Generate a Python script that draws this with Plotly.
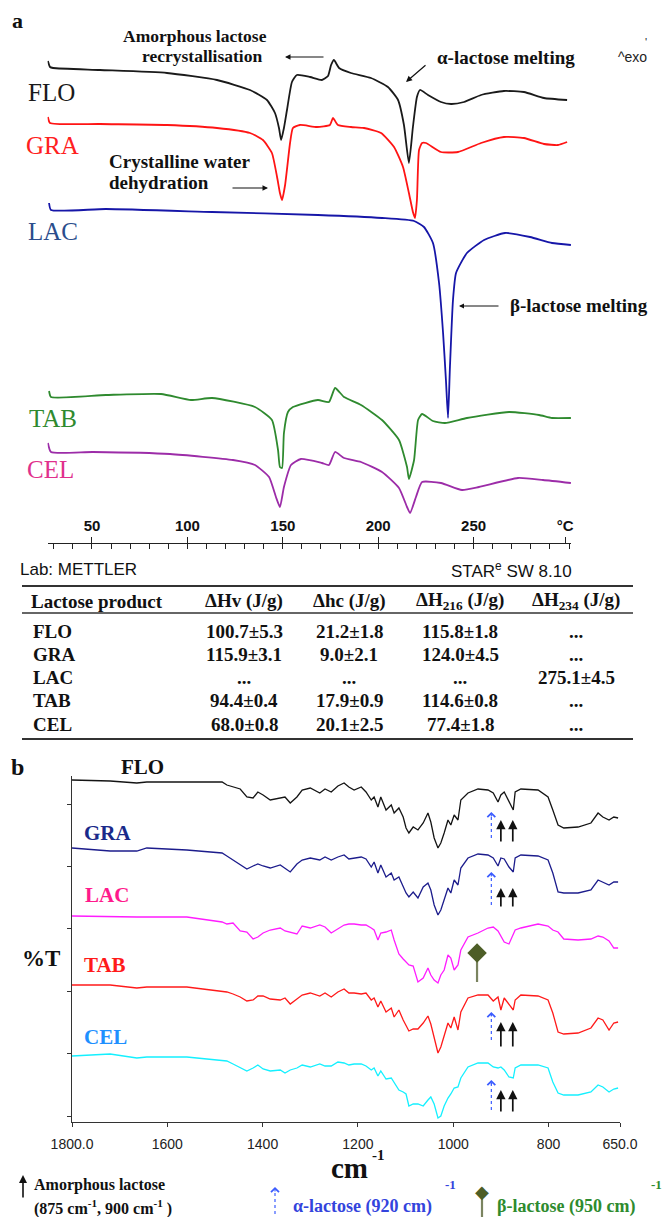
import plotly.graph_objects as go

W, H = 662, 1217
SERIF = "Liberation Serif"
SANS = "Liberation Sans"

# ======================= DATA =======================
# ---- Panel a: DSC thermograms (temperature °C, heat flow a.u., exo up) ----
DSC_SAMPLES = ["FLO", "GRA", "LAC", "TAB", "CEL"]

FLO_T = [26.9, 28.0, 29.6, 54.2, 89.3, 115.5, 132.8, 141.7, 145.9, 148.0, 149.1, 150.6, 152.2, 154.8, 157.4,
         164.3, 170.5, 173.7, 175.3, 176.8, 179.5, 185.7, 196.2, 205.1, 210.4, 213.5, 216.1, 218.2, 220.3, 221.9,
         226.1, 232.9, 238.2, 245.0, 253.9, 265.9, 276.4, 286.9, 299.0]
FLO_HF = [6, 0, -1, -3, -6, -13, -23, -33, -46, -61, -73, -61, -43, -15, -8,
          -10, -13, -9, 2, 7, -1, -6, -11, -20, -33, -58, -96, -60, -30, -23,
          -28, -35, -37, -35, -28, -24, -25, -31, -33]

GRA_T = [26.9, 28.0, 54.2, 89.3, 115.5, 132.8, 139.6, 144.3, 147.0, 148.5, 149.6, 151.2, 153.8, 155.3, 159.0,
         167.9, 174.7, 176.3, 178.9, 185.7, 192.6, 201.5, 208.3, 213.0, 216.1, 218.2, 219.3, 220.3, 221.4, 223.0,
         225.0, 232.9, 241.8, 253.9, 265.9, 276.4, 286.9, 294.2, 299.0]
GRA_HF = [6, 0, -1, -2, -5, -10, -17, -30, -54, -70, -77, -62, -20, -5, -2,
          -4, -2, 5, -2, -4, -5, -10, -24, -44, -70, -89, -95, -77, -27, -20,
          -20, -29, -29, -20, -14, -15, -21, -22, -19]

LAC_T = [27.5, 28.5, 57.3, 112.9, 168.4, 202.0, 218.8, 224.0, 228.7, 231.9, 234.0, 235.5, 236.6, 237.6, 239.2,
         240.8, 246.5, 255.5, 266.5, 279.6, 291.1, 301.0]
LAC_HF = [6, -1, 0, -3, -6, -9, -12, -18, -34, -74, -124, -171, -209, -158, -91,
          -64, -44, -31, -24, -28, -34, -36]

TAB_T = [27.5, 28.5, 57.3, 86.2, 101.9, 112.9, 135.4, 144.3, 147.5, 148.5, 149.6, 150.6, 152.7, 155.3, 168.4,
         174.2, 177.4, 182.1, 191.0, 202.0, 210.9, 215.1, 216.1, 218.8, 220.9, 223.0, 228.7, 235.0, 246.5, 268.6,
         284.3, 291.1, 301.0]
TAB_HF = [5, -1, 1, 2, -4, -2, -11, -24, -54, -71, -72, -37, -16, -11, -4,
          -6, 8, -1, -9, -24, -44, -71, -83, -64, -24, -18, -25, -27, -22, -16,
          -19, -22, -22]

CEL_T = [26.9, 28.5, 50.5, 90.9, 123.9, 135.4, 142.8, 146.4, 148.5, 150.6, 154.3, 159.5, 170.5, 174.2, 177.4,
         182.1, 191.0, 202.0, 210.9, 215.1, 216.7, 219.8, 223.0, 232.9, 243.9, 252.8, 273.3, 286.4, 301.0]
CEL_HF = [9, 0, 0, -2, -8, -13, -25, -45, -55, -35, -13, -7, -11, -13, 0,
          -6, -10, -20, -36, -55, -61, -45, -30, -31, -38, -35, -26, -28, -31]

DSC_T = {"FLO": FLO_T, "GRA": GRA_T, "LAC": LAC_T, "TAB": TAB_T, "CEL": CEL_T}
DSC_HF = {"FLO": FLO_HF, "GRA": GRA_HF, "LAC": LAC_HF, "TAB": TAB_HF, "CEL": CEL_HF}

DSC_TICKS = [50, 100, 150, 200, 250, 298]
DSC_TICKTEXT = ["50", "100", "150", "200", "250", "°C"]

# ---- Table ----
TABLE_HEADER = ["Lactose product", "ΔHv (J/g)", "Δhc (J/g)", "ΔH<sub>216</sub> (J/g)", "ΔH<sub>234</sub> (J/g)"]
TABLE_PRODUCTS = ["FLO", "GRA", "LAC", "TAB", "CEL"]
DHV = ["100.7±5.3", "115.9±3.1", "...", "94.4±0.4", "68.0±0.8"]
DHC = ["21.2±1.8", "9.0±2.1", "...", "17.9±0.9", "20.1±2.5"]
DH216 = ["115.8±1.8", "124.0±4.5", "...", "114.6±0.8", "77.4±1.8"]
DH234 = ["...", "...", "275.1±4.5", "...", "..."]

# ---- Panel b: FTIR spectra (wavenumber cm-1, transmittance a.u.) ----
FTIR_SAMPLES = ["FLO", "GRA", "LAC", "TAB", "CEL"]
WN = [1800, 1720, 1664, 1643, 1559, 1485, 1475, 1462, 1447, 1433, 1420, 1410, 1399, 1384, 1363,
      1353, 1342, 1328, 1317, 1300, 1280, 1269, 1256, 1242, 1229, 1219, 1208, 1193, 1183, 1172,
      1166, 1158, 1152, 1141, 1130, 1124, 1114, 1105, 1099, 1093, 1084, 1074, 1063, 1053, 1047,
      1040, 1032, 1026, 1019, 1011, 1005, 998, 990, 984, 969, 948, 927, 916, 906, 900,
      893, 883, 874, 870, 858, 822, 801, 791, 780, 768, 738, 711, 696, 686, 673,
      663, 654]
FTIR_FLO = [0, -1, -3, -2, -2, -2, -5, -7, -9, -17, -18, -12, -15, -20, -18,
            -17, -23, -17, -10, -8, -13, -9, -12, -6, -3, -7, -10, -7, -12, -20,
            -17, -27, -17, -30, -25, -33, -28, -37, -48, -53, -47, -50, -43, -33, -42,
            -58, -68, -63, -53, -40, -45, -35, -40, -20, -13, -9, -10, -13, -22, -15,
            -12, -22, -30, -12, -9, -10, -17, -30, -45, -48, -47, -43, -33, -37, -40,
            -37, -38]
FTIR_GRA = [0, -3, -3, 0, -2, -5, -8, -12, -17, -21, -18, -16, -18, -20, -17,
            -20, -24, -16, -12, -10, -12, -9, -12, -9, -7, -11, -10, -9, -11, -19,
            -14, -25, -17, -29, -25, -32, -29, -38, -45, -49, -44, -50, -39, -35, -42,
            -57, -67, -62, -52, -40, -45, -32, -37, -20, -10, -6, -7, -10, -18, -10,
            -11, -19, -24, -10, -7, -8, -12, -25, -44, -45, -45, -42, -32, -34, -37,
            -34, -34]
FTIR_LAC = [0, -1, -1, -1, -1, -6, -8, -7, -15, -16, -23, -21, -17, -14, -12,
            -15, -16, -18, -10, -12, -9, -11, -17, -13, -9, -8, -8, -9, -9, -12,
            -14, -24, -17, -16, -14, -24, -38, -43, -46, -49, -50, -66, -62, -52, -59,
            -64, -67, -59, -54, -39, -42, -54, -49, -34, -21, -17, -12, -11, -15, -20,
            -26, -28, -17, -14, -12, -8, -10, -14, -16, -23, -24, -23, -20, -21, -25,
            -32, -32]
FTIR_TAB = [0, 0, -3, -2, -2, -6, -7, -9, -12, -16, -15, -11, -11, -14, -15,
            -13, -19, -14, -10, -8, -11, -8, -12, -7, -4, -8, -8, -9, -8, -15,
            -13, -22, -16, -27, -23, -32, -25, -35, -41, -46, -44, -44, -38, -31, -39,
            -53, -68, -62, -50, -38, -43, -32, -45, -27, -13, -10, -10, -16, -12, -25,
            -13, -19, -25, -15, -10, -11, -15, -28, -47, -49, -48, -43, -33, -35, -45,
            -38, -37]
FTIR_CEL = [0, 2, -2, -1, -1, -4, -5, -8, -12, -15, -12, -9, -13, -15, -14,
            -17, -14, -12, -9, -11, -8, -10, -10, -6, -7, -9, -8, -8, -10, -14,
            -12, -20, -15, -23, -22, -27, -34, -36, -38, -50, -48, -48, -50, -44, -41,
            -48, -62, -60, -50, -42, -38, -32, -31, -22, -11, -7, -7, -11, -12, -11,
            -14, -21, -22, -12, -9, -9, -12, -26, -37, -39, -39, -36, -29, -31, -36,
            -33, -32]
FTIR = {"FLO": FTIR_FLO, "GRA": FTIR_GRA, "LAC": FTIR_LAC, "TAB": FTIR_TAB, "CEL": FTIR_CEL}

FTIR_TICKS = [1800, 1600, 1400, 1200, 1000, 800, 650]
FTIR_TICKTEXT = ["1800.0", "1600", "1400", "1200", "1000", "800", "650.0"]

AMORPHOUS_BANDS = [900, 875]     # cm-1
ALPHA_BAND = 920                 # cm-1
BETA_BAND = 950                  # cm-1
AMORPHOUS_SAMPLES = ["FLO", "GRA", "TAB", "CEL"]
BETA_SAMPLES = ["LAC"]

# ======================= STYLE / LAYOUT =======================
DSC_STYLE = {
    "FLO": dict(offset=453, color="#1a1a1a", lcolor="#1a1a1a", lxy=(51, 92)),
    "GRA": dict(offset=397, color="#ff1414", lcolor="#ff2020", lxy=(52, 145)),
    "LAC": dict(offset=311, color="#1616a8", lcolor="#2b4d8c", lxy=(53, 232)),
    "TAB": dict(offset=124, color="#2f8a2f", lcolor="#2f8a2f", lxy=(53, 418)),
    "CEL": dict(offset=68, color="#9c2ca8", lcolor="#e0308c", lxy=(50, 470)),
}
FTIR_STYLE = {
    "FLO": dict(offset=342, color="#141414", lcolor="#111111", lxy=(142, 767)),
    "GRA": dict(offset=274, color="#1c1c8c", lcolor="#1a2a8a", lxy=(108, 833)),
    "LAC": dict(offset=206, color="#ff1cff", lcolor="#ff1a8c", lxy=(107, 895)),
    "TAB": dict(offset=137, color="#ff1a1a", lcolor="#ff1a1a", lxy=(105, 965)),
    "CEL": dict(offset=66, color="#14f0ff", lcolor="#1e90ff", lxy=(105, 1037)),
}
# arrow (tail, head) heights in FTIR axis units
ALPHA_ARROW_Y = {"FLO": (284, 310), "GRA": (217, 250), "TAB": (82, 110), "CEL": (12, 42)}
AMORPH_ARROW_Y = {"FLO": (279, 302), "GRA": (214, 234), "TAB": (74, 100), "CEL": (9, 32)}
BETA_MARK_Y = {"LAC": (140, 169)}


def X(px):
    return px / W


def Y(py):
    return 1 - py / H


fig = go.Figure()

# ---- DSC curves ----
for s in DSC_SAMPLES:
    st = DSC_STYLE[s]
    fig.add_trace(go.Scatter(
        x=DSC_T[s], y=[st["offset"] + v for v in DSC_HF[s]], xaxis="x", yaxis="y",
        mode="lines", line=dict(color=st["color"], width=1.8, shape="spline", smoothing=0.5),
        hoverinfo="skip"))

# ---- FTIR spectra ----
for s in FTIR_SAMPLES:
    st = FTIR_STYLE[s]
    fig.add_trace(go.Scatter(
        x=WN, y=[st["offset"] + v for v in FTIR[s]], xaxis="x2", yaxis="y2",
        mode="lines", line=dict(color=st["color"], width=1.3), hoverinfo="skip"))

annotations = []
shapes = []


def text(t, x, y, size, color="#111", bold=False, family=SERIF, xanchor="center", yanchor="middle"):
    annotations.append(dict(
        text=("<b>%s</b>" % t) if bold else t, x=X(x), y=Y(y), xref="paper", yref="paper",
        showarrow=False, xanchor=xanchor, yanchor=yanchor, borderpad=0,
        font=dict(family=family, size=size, color=color)))


def arrow(hx, hy, tx, ty, color="#111", head=2, size=1.0, width=1.2):
    annotations.append(dict(
        text="", x=X(hx), y=Y(hy), xref="paper", yref="paper", axref="pixel", ayref="pixel",
        ax=tx - hx, ay=ty - hy, showarrow=True, arrowhead=head, arrowsize=size,
        arrowwidth=width, arrowcolor=color))


# ---- Panel a text ----
text("a", 17, 21, 22, bold=True)
for s in DSC_SAMPLES:
    st = DSC_STYLE[s]
    text(s, st["lxy"][0], st["lxy"][1], 25, color=st["lcolor"])

text("Amorphous lactose", 195, 36, 17.5, bold=True)
text("recrystallisation", 202, 56, 17.5, bold=True)
arrow(285, 57, 325, 57, width=1.1)
text("α-lactose melting", 506, 58, 19, bold=True)
arrow(406, 82, 427, 64, width=1.2)
text("^exo", 632, 57, 14, family=SANS, color="#222")
text("'", 646, 42, 11, family=SANS, color="#222")
text("Crystalline water", 108, 161, 19, bold=True, xanchor="left")
text("dehydration", 108, 183, 19, bold=True, xanchor="left")
arrow(268, 188, 231, 188, width=1.1)
text("β-lactose melting", 509, 306, 19, bold=True, xanchor="left")
arrow(459, 306, 500, 306, width=1.0)
text("Lab: METTLER", 19, 570, 17, family=SANS, color="#111", xanchor="left")
text("STAR<sup>e</sup> SW 8.10", 573, 570, 17, family=SANS, color="#111", xanchor="right")

# ---- Table ----
for yy, wd in [(586, 2.2), (613, 1.6), (739, 2.2)]:
    shapes.append(dict(type="line", xref="paper", yref="paper", x0=X(22), x1=X(633),
                       y0=Y(yy), y1=Y(yy), line=dict(color="#333", width=wd)))
COL_X = [30, 244, 349, 460, 576]
HEADER_Y = 601
ROW_Y = [631, 654, 677, 700, 725]
text(TABLE_HEADER[0], COL_X[0], HEADER_Y, 19, bold=True, xanchor="left")
for j in range(1, 5):
    text(TABLE_HEADER[j], COL_X[j], HEADER_Y, 19, bold=True)
for i, prod in enumerate(TABLE_PRODUCTS):
    text(prod, 32, ROW_Y[i], 19, bold=True, xanchor="left")
    for j, col in enumerate([DHV, DHC, DH216, DH234]):
        text(col[i], COL_X[j + 1], ROW_Y[i], 19, bold=True)

# ---- Panel b text ----
text("b", 17, 767, 24, bold=True)
for s in FTIR_SAMPLES:
    st = FTIR_STYLE[s]
    text(s, st["lxy"][0], st["lxy"][1], 21, color=st["lcolor"], bold=True)
text("%T", 41, 958, 23, bold=True)
text("cm", 349, 1168, 29, bold=True)
text("-1", 378, 1155, 15, bold=True)

# ---- FTIR band markers ----
for s in AMORPHOUS_SAMPLES:
    tail, head = AMORPH_ARROW_Y[s]
    for wn in AMORPHOUS_BANDS:
        annotations.append(dict(text="", x=wn, y=head, xref="x2", yref="y2", axref="x2", ayref="y2",
                                ax=wn, ay=tail, showarrow=True, arrowhead=2, arrowsize=1.1,
                                arrowwidth=1.7, arrowcolor="#111"))
    a_tail, a_head = ALPHA_ARROW_Y[s]
    fig.add_trace(go.Scatter(x=[ALPHA_BAND, ALPHA_BAND], y=[a_tail, a_head - 2], xaxis="x2", yaxis="y2",
                             mode="lines", line=dict(color="#3b5cff", width=1.2, dash="3px,3px"),
                             hoverinfo="skip"))
    annotations.append(dict(text="", x=ALPHA_BAND, y=a_head, xref="x2", yref="y2", axref="pixel",
                            ayref="pixel", ax=0, ay=6, showarrow=True, arrowhead=4, arrowsize=1.4,
                            arrowwidth=1.1, arrowcolor="#3b5cff"))
for s in BETA_SAMPLES:
    b_low, b_mark = BETA_MARK_Y[s]
    fig.add_trace(go.Scatter(x=[BETA_BAND, BETA_BAND], y=[b_low, b_mark], xaxis="x2", yaxis="y2",
                             mode="lines", line=dict(color="#7b8460", width=2.2), hoverinfo="skip"))
    fig.add_trace(go.Scatter(x=[BETA_BAND], y=[b_mark], xaxis="x2", yaxis="y2", mode="markers",
                             marker=dict(symbol="diamond", size=15, color="#4d5e27"), hoverinfo="skip"))

# ---- Bottom key ----
arrow(23, 1175, 23, 1199, width=1.6, head=2, size=1.0)
text("Amorphous lactose", 33, 1185, 16, bold=True, xanchor="left")
text("(875 cm<sup>-1</sup>, 900 cm<sup>-1</sup> )", 33, 1207, 16, bold=True, xanchor="left")
shapes.append(dict(type="line", xref="paper", yref="paper", x0=X(275), x1=X(275), y0=Y(1214), y1=Y(1190),
                   line=dict(color="#3b5cff", width=1.2, dash="3px,3px")))
arrow(275, 1187, 275, 1193, color="#3b5cff", head=4, size=1.4, width=1.1)
text("α-lactose (920 cm)", 292, 1206, 18, color="#3344dd", bold=True, xanchor="left")
text("-1", 450, 1184, 13, color="#3344dd", bold=True)
shapes.append(dict(type="line", xref="paper", yref="paper", x0=X(482), x1=X(482), y0=Y(1217), y1=Y(1193),
                   line=dict(color="#7b8460", width=2.2)))
text("◆", 482, 1191, 18, color="#4d5e27", family="DejaVu Sans")
text("β-lactose (950 cm)", 496, 1206, 18, color="#2e8b2e", bold=True, xanchor="left")
text("-1", 656, 1184, 13, color="#2e8b2e", bold=True)

# ======================= AXES =======================
fig.update_layout(
    width=W, height=H, autosize=False,
    margin=dict(l=0, r=0, t=0, b=0, pad=0, autoexpand=False),
    paper_bgcolor="white", plot_bgcolor="white", showlegend=False,
    xaxis=dict(domain=[X(47.5), X(571)], range=[26.68, 301.05], anchor="free", position=Y(543),
               side="top", showline=True, linecolor="#222", linewidth=1.2, automargin=False,
               tickmode="array", tickvals=DSC_TICKS, ticktext=DSC_TICKTEXT,
               ticks="outside", ticklen=6, tickwidth=1.2, tickcolor="#222",
               minor=dict(tickmode="linear", tick0=0, dtick=10, ticks="inside", ticklen=5,
                          tickwidth=1, tickcolor="#222", showgrid=False),
               tickfont=dict(family=SANS, size=15, color="#111", weight="bold"),
               showgrid=False, zeroline=False),
    yaxis=dict(domain=[Y(530), Y(42)], range=[-10, 478], visible=False, anchor="x", automargin=False),
    xaxis2=dict(domain=[X(72), X(620)], range=[1800, 650], anchor="y2", automargin=False,
                showline=True, linecolor="#333", linewidth=1.2,
                tickmode="array", tickvals=FTIR_TICKS, ticktext=FTIR_TICKTEXT,
                ticks="outside", ticklen=4, tickcolor="#333",
                tickfont=dict(family=SANS, size=14, color="#222"), ticklabelstandoff=5,
                showgrid=False, zeroline=False),
    yaxis2=dict(domain=[Y(1122), Y(776)], range=[0, 346], anchor="x2", automargin=False,
                showline=True, linecolor="#333", linewidth=1.2,
                tickmode="linear", tick0=6, dtick=62.4, ticks="outside", ticklen=4, tickcolor="#333",
                showticklabels=False, showgrid=False, zeroline=False),
    annotations=annotations, shapes=shapes,
)

fig.write_html("out.html", post_script="document.body.style.margin='0';")
